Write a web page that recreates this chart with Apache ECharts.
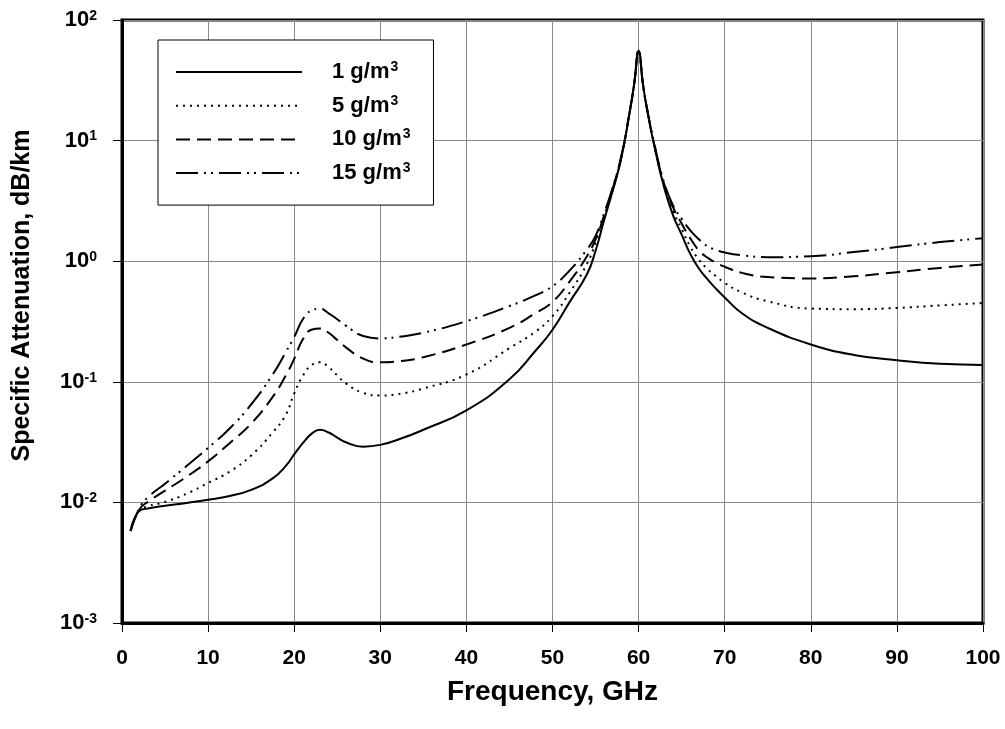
<!DOCTYPE html>
<html>
<head>
<meta charset="utf-8">
<script src="https://cdn.jsdelivr.net/npm/echarts@6/dist/echarts.min.js"></script>
<style>
  html, body { margin: 0; padding: 0; background: #fff; }
  #chart { width: 1005px; height: 729px; }
</style>
</head>
<body>
<div id="chart"></div>
<script>
// Frequency grid (GHz)
const freq = [1, 2, 3, 5, 7.5, 10, 12.5, 15, 17.5, 19, 20, 21, 22, 23, 24, 25, 26, 28, 30, 32.5, 35, 40, 45, 48, 50, 52, 54, 55, 56, 57, 58, 59, 59.5, 60, 60.5, 61, 62, 63, 64, 65, 66, 67, 68, 69, 70, 72, 75, 80, 85, 90, 95, 100];

// Specific attenuation (dB/km) for each water vapour density
const att1 = [0.0058, 0.0085, 0.0089, 0.0094, 0.0099, 0.0105, 0.0113, 0.0127, 0.0158, 0.020, 0.025, 0.031, 0.037, 0.040, 0.038, 0.0345, 0.0315, 0.029, 0.030, 0.034, 0.040, 0.058, 0.105, 0.18, 0.27, 0.46, 0.78, 1.22, 2.2, 3.85, 7.2, 17.8, 30, 55.6, 29.5, 17.8, 7.9, 4.0, 2.4, 1.66, 1.15, 0.87, 0.71, 0.59, 0.50, 0.37, 0.28, 0.204, 0.167, 0.151, 0.141, 0.138];
const att5 = [0.0058, 0.0085, 0.0093, 0.0101, 0.0118, 0.0145, 0.018, 0.0245, 0.038, 0.053, 0.080, 0.112, 0.137, 0.145, 0.132, 0.113, 0.097, 0.081, 0.077, 0.080, 0.088, 0.115, 0.19, 0.26, 0.35, 0.55, 0.95, 1.42, 2.35, 3.95, 7.3, 17.9, 30, 55.6, 29.6, 17.9, 8.0, 4.15, 2.6, 1.85, 1.32, 1.03, 0.86, 0.75, 0.66, 0.55, 0.465, 0.405, 0.40, 0.41, 0.43, 0.45];
const att10 = [0.0058, 0.0087, 0.0101, 0.0125, 0.0163, 0.0219, 0.031, 0.045, 0.075, 0.112, 0.155, 0.225, 0.27, 0.277, 0.255, 0.222, 0.193, 0.156, 0.145, 0.149, 0.16, 0.204, 0.28, 0.37, 0.46, 0.68, 1.1, 1.52, 2.4, 4.0, 7.4, 18, 30, 55.6, 29.7, 18, 8.1, 4.3, 2.8, 2.05, 1.55, 1.23, 1.07, 0.97, 0.90, 0.80, 0.74, 0.72, 0.75, 0.81, 0.88, 0.94];
const att15 = [0.0058, 0.0089, 0.0110, 0.0143, 0.0200, 0.0283, 0.041, 0.065, 0.115, 0.175, 0.235, 0.33, 0.39, 0.403, 0.37, 0.33, 0.292, 0.24, 0.229, 0.238, 0.255, 0.318, 0.425, 0.52, 0.62, 0.84, 1.25, 1.62, 2.5, 4.1, 7.5, 18, 30, 55.6, 29.8, 18.1, 8.3, 4.4, 2.9, 2.25, 1.8, 1.52, 1.33, 1.24, 1.18, 1.12, 1.08, 1.10, 1.19, 1.31, 1.44, 1.55];

const seriesNames = ['1 g/m3', '5 g/m3', '10 g/m3', '15 g/m3'];
const xTicks = [0, 10, 20, 30, 40, 50, 60, 70, 80, 90, 100];
const yExponents = [-3, -2, -1, 0, 1, 2];

const FONT = "'Liberation Sans', Arial, sans-serif";
const dashStyles = ['solid', [2, 5], [14, 7], [22, 6, 2, 5, 2, 6]];
const allData = [att1, att5, att10, att15];

const chart = echarts.init(document.getElementById('chart'), null, { renderer: 'canvas' });

const series = allData.map((vals, i) => ({
  name: seriesNames[i],
  type: 'line',
  data: freq.map((f, j) => [f, vals[j]]),
  symbol: 'none',
  smooth: 0.5,
  lineStyle: { color: '#000', width: 2, type: dashStyles[i] },
  itemStyle: { color: '#000' },
  z: 10 - i
}));

chart.setOption({
  animation: false,
  backgroundColor: '#fff',
  textStyle: { fontFamily: FONT },
  grid: {
    left: 122, right: 22, top: 20, bottom: 106,
    show: true, borderColor: '#000', borderWidth: 3, backgroundColor: 'transparent'
  },
  legend: {
    orient: 'vertical',
    left: 158, top: 40,
    padding: [20, 23, 20, 17],
    itemWidth: 126, itemHeight: 14, itemGap: 9.7,
    backgroundColor: '#fff',
    borderColor: '#000', borderWidth: 1,
    borderRadius: 0,
    data: seriesNames,
    itemStyle: { color: 'rgba(0,0,0,0)', borderWidth: 0, opacity: 0 },
    formatter: function (name) {
      return '{a|' + name.replace('3', '') + '}{s|3}';
    },
    textStyle: {
      fontFamily: FONT, fontWeight: 'bold', fontSize: 22, color: '#000',
      lineHeight: 24, padding: [0, 0, 0, 25],
      rich: {
        a: { fontFamily: FONT, fontWeight: 'bold', fontSize: 22, color: '#000', lineHeight: 24 },
        s: { fontFamily: FONT, fontWeight: 'bold', fontSize: 14, color: '#000', verticalAlign: 'top', lineHeight: 24, padding: [0, 0, 10, 1] }
      }
    }
  },
  xAxis: {
    type: 'value', min: 0, max: 100, interval: 10,
    name: 'Frequency, GHz', nameLocation: 'middle', nameGap: 55,
    nameTextStyle: { fontFamily: FONT, fontWeight: 'bold', fontSize: 28, color: '#000' },
    axisLine: { show: true, onZero: false, lineStyle: { color: '#000', width: 3 } },
    axisTick: { show: true, inside: false, length: 9, lineStyle: { color: '#000', width: 1 } },
    axisLabel: {
      margin: 25, fontFamily: FONT, fontWeight: 'bold', fontSize: 21, color: '#000',
      formatter: function (v) { return xTicks.indexOf(v) >= 0 ? String(v) : ''; }
    },
    splitLine: { show: true, lineStyle: { color: '#8a8a8a', width: 1 } }
  },
  yAxis: {
    type: 'log', logBase: 10, min: 0.001, max: 100,
    name: 'Specific Attenuation, dB/km', nameLocation: 'middle', nameGap: 87, nameRotate: 90,
    nameTextStyle: { fontFamily: FONT, fontWeight: 'bold', fontSize: 25, color: '#000', padding: [0, 0, 0, 52] },
    axisLine: { show: true, onZero: false, lineStyle: { color: '#000', width: 3 } },
    axisTick: { show: true, inside: false, length: 9, lineStyle: { color: '#000', width: 1 } },
    axisLabel: {
      margin: 25,
      formatter: function (v) {
        const e = Math.round(Math.log10(v));
        if (yExponents.indexOf(e) < 0) return '';
        return '{b|10}{s|' + e + '}';
      },
      rich: {
        b: { fontFamily: FONT, fontWeight: 'bold', fontSize: 22, color: '#000', lineHeight: 22 },
        s: { fontFamily: FONT, fontWeight: 'bold', fontSize: 14, color: '#000', verticalAlign: 'top', lineHeight: 22, padding: [0, 0, 8, 0] }
      }
    },
    splitLine: { show: true, lineStyle: { color: '#8a8a8a', width: 1 } },
    minorTick: { show: false },
    minorSplitLine: { show: false }
  },
  series: series
});
</script>
</body>
</html>
